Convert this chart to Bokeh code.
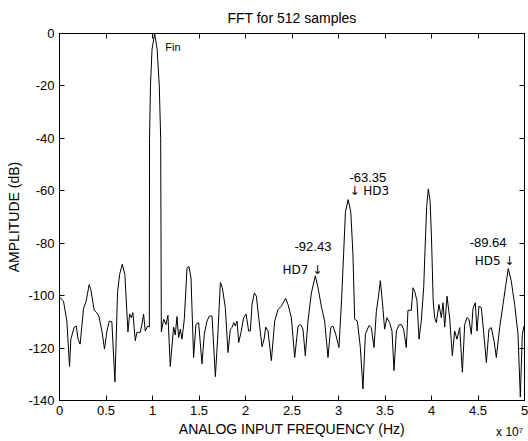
from bokeh.plotting import figure
from bokeh.models import Range1d, LinearAxis, FixedTicker
from bokeh.core.properties import value
from bokeh.embed import file_html
from bokeh.resources import INLINE

FONT = "Liberation Sans"
ARROW_FONT = "DejaVu Sans"

# frequency in units of 1e7 Hz, amplitude in dB
freq = [0.000, 0.043, 0.079, 0.108, 0.122, 0.158, 0.180, 0.200, 0.222, 0.258,
        0.287, 0.319, 0.337, 0.373, 0.400, 0.423, 0.456, 0.484, 0.510, 0.535,
        0.563, 0.596, 0.624, 0.646, 0.675, 0.703, 0.736, 0.754, 0.772, 0.789,
        0.815, 0.832, 0.868, 0.886, 0.904, 0.922, 0.947,
        0.966, 0.968, 0.978, 0.995, 1.023, 1.050, 1.073, 1.088, 1.095,
        1.120, 1.145, 1.166, 1.191, 1.227, 1.245, 1.263, 1.281, 1.299, 1.317,
        1.342, 1.371, 1.392, 1.414, 1.442, 1.467, 1.496, 1.532, 1.557, 1.586,
        1.611, 1.640, 1.676, 1.701, 1.730, 1.751, 1.783, 1.812, 1.837, 1.855,
        1.873, 1.891, 1.909, 1.927, 1.952, 1.980, 2.006, 2.034, 2.052, 2.070,
        2.095, 2.117, 2.142, 2.178, 2.200, 2.217, 2.242, 2.278, 2.314, 2.350,
        2.385, 2.432, 2.457, 2.493, 2.529, 2.565, 2.593, 2.618, 2.643, 2.672,
        2.708, 2.751, 2.780, 2.815, 2.851, 2.887, 2.916, 2.941, 2.970, 3.005,
        3.034, 3.055, 3.075, 3.104, 3.132, 3.155, 3.174, 3.203, 3.235, 3.263,
        3.289, 3.328, 3.353, 3.382, 3.407, 3.428, 3.450, 3.471, 3.496, 3.521,
        3.550, 3.575, 3.597, 3.622, 3.650, 3.676, 3.700, 3.729, 3.747, 3.783,
        3.801, 3.819, 3.844, 3.866, 3.890, 3.916, 3.935, 3.948, 3.966, 3.985,
        4.000, 4.018, 4.034, 4.052, 4.080, 4.106, 4.124, 4.142, 4.167, 4.195,
        4.224, 4.249, 4.274, 4.303, 4.332, 4.357, 4.382, 4.403, 4.428, 4.446,
        4.471, 4.489, 4.511, 4.536, 4.561, 4.590, 4.618, 4.643, 4.672, 4.697,
        4.733, 4.769, 4.797, 4.826, 4.858, 4.894, 4.930, 4.955, 4.976, 4.994]

amp = [-100.6, -102.1, -109.7, -127.0, -116.6, -112.0, -111.6, -116.6, -118.5, -105.0,
       -102.0, -95.8, -97.7, -105.6, -106.5, -107.8, -113.5, -120.4, -113.5, -109.7,
       -110.0, -132.9, -98.9, -92.0, -88.0, -92.0, -113.8, -107.0, -108.4, -106.5,
       -117.2, -114.0, -114.0, -111.0, -107.0, -113.5, -111.6,
       -112.0, -40.0, -20.0, -6.0, 0.0, -6.0, -20.0, -40.0, -113.8,
       -109.0, -111.0, -107.5, -127.0, -112.0, -115.0, -108.0, -116.0, -112.8, -116.6,
       -109.0, -89.5, -88.8, -93.3, -123.6, -111.0, -110.3, -126.0, -114.7, -109.7,
       -107.8, -107.8, -130.9, -116.0, -95.0, -97.0, -104.6, -121.7, -112.8, -112.2,
       -110.3, -111.6, -109.7, -117.9, -114.0, -108.4, -107.0, -113.5, -113.5, -103.4,
       -99.0, -100.2, -108.4, -119.5, -116.6, -112.0, -113.5, -124.8, -109.7, -105.3,
       -104.0, -101.0, -103.4, -108.4, -123.6, -111.6, -111.0, -112.8, -122.9, -109.7,
       -99.0, -92.43, -97.0, -104.0, -109.7, -123.6, -112.2, -111.6, -114.7, -119.8,
       -101.0, -84.0, -68.0, -63.35, -68.0, -84.0, -109.0, -109.7, -119.8, -135.6,
       -114.7, -111.4, -112.2, -119.8, -106.0, -100.8, -94.3, -102.0, -112.8, -108.4,
       -110.3, -113.5, -128.6, -113.5, -111.2, -111.0, -112.8, -119.8, -105.6, -105.6,
       -97.0, -98.3, -102.0, -116.6, -109.7, -97.0, -78.0, -66.0, -59.3, -64.0,
       -78.0, -102.0, -108.4, -110.3, -103.4, -108.4, -102.7, -112.0, -100.2, -108.4,
       -122.9, -113.5, -116.6, -112.2, -129.2, -111.0, -108.4, -109.0, -114.7, -105.0,
       -102.7, -113.5, -104.0, -104.6, -114.0, -125.5, -112.8, -112.2, -117.2, -123.6,
       -112.2, -103.4, -96.4, -89.64, -94.5, -103.4, -114.7, -138.7, -115.0, -111.6]

x_ticks = [0, 0.5, 1, 1.5, 2, 2.5, 3, 3.5, 4, 4.5, 5]
x_tick_labels = ["0", "0.5", "1", "1.5", "2", "2.5", "3", "3.5", "4", "4.5", "5"]
y_ticks = [-140, -120, -100, -80, -60, -40, -20, 0]
y_tick_labels = ["-140", "-120", "-100", "-80", "-60", "-40", "-20", "0"]

# axis multiplier note shown under the right end of the x axis
exp_text = "x 10\u2077"
exp_pos = 4.84

# measured peak values
val_x = [3.118, 2.527, 4.410]
val_y = [-55.0, -81.2, -79.7]
val_text = ["-63.35", "-92.43", "-89.64"]

# harmonic tags with arrows
tag_x = [3.118, 2.397, 4.464]
tag_y = [-60.2, -90.3, -86.9]
tag_text = ["\u2193 HD3", "HD7 \u2193", "HD5 \u2193"]

fin_x = [1.138]
fin_y = [-5.0]
fin_text = ["Fin"]

p = figure(width=528, height=441, x_range=Range1d(0, 5), y_range=Range1d(-140, 0),
           output_backend="svg", toolbar_location=None,
           min_border_left=59, min_border_right=4, min_border_top=32, min_border_bottom=41,
           title="FFT for 512 samples")
p.background_fill_color = "white"
p.border_fill_color = "white"
p.outline_line_color = "black"
p.xgrid.visible = False
p.ygrid.visible = False

p.title.text_font = FONT
p.title.text_font_size = "14px"
p.title.text_font_style = "normal"
p.title.text_color = "black"
p.title.align = "center"
p.title.standoff = 15


def style_axis(ax, ticks, labels, show_labels=True):
    ax.ticker = FixedTicker(ticks=ticks)
    ax.major_label_overrides = dict(zip(ticks, labels))
    ax.major_tick_in = 5
    ax.major_tick_out = 0
    ax.minor_tick_line_color = None
    ax.axis_line_color = "black"
    ax.major_tick_line_color = "black"
    ax.major_label_text_font = FONT
    if show_labels:
        ax.major_label_text_font_size = "13px"
        ax.major_label_text_color = "black"
    else:
        ax.major_label_text_font_size = "1px"
        ax.major_label_text_color = None
        ax.major_label_standoff = 0
    ax.axis_label_text_font = FONT
    ax.axis_label_text_font_size = "14px"
    ax.axis_label_text_font_style = "normal"
    ax.axis_label_text_color = "black"


xa = p.xaxis[0]
style_axis(xa, x_ticks, x_tick_labels)
xa.axis_label = "ANALOG INPUT FREQUENCY (Hz)"
xa.major_label_standoff = 5
xa.axis_label_standoff = 3

ya = p.yaxis[0]
style_axis(ya, y_ticks, y_tick_labels)
ya.axis_label = "AMPLITUDE (dB)"
ya.major_label_standoff = 5
ya.axis_label_standoff = 3

top = LinearAxis()
style_axis(top, x_ticks, x_tick_labels, show_labels=False)
p.add_layout(top, "above")
right = LinearAxis()
style_axis(right, y_ticks, y_tick_labels, show_labels=False)
p.add_layout(right, "right")

# outer axis carrying only the "x 10^7" multiplier
mult = LinearAxis(ticker=FixedTicker(ticks=[exp_pos]),
                  major_label_overrides={exp_pos: exp_text})
mult.axis_line_color = None
mult.major_tick_line_color = None
mult.minor_tick_line_color = None
mult.major_tick_in = 0
mult.major_tick_out = 0
mult.major_label_standoff = -15
mult.major_label_text_font = FONT
mult.major_label_text_font_size = "12px"
mult.major_label_text_color = "black"
p.add_layout(mult, "below")

p.line(freq, amp, line_color="black", line_width=1)

p.text(x=val_x, y=val_y, text=val_text, text_font=value(FONT), text_font_size="13px",
       text_align="left", text_baseline="alphabetic", text_color="black")
p.text(x=tag_x, y=tag_y, text=tag_text, text_font=value(ARROW_FONT), text_font_size="12px",
       text_align="left", text_baseline="alphabetic", text_color="black")
p.text(x=fin_x, y=fin_y, text=fin_text, text_font=value(FONT), text_font_size="11px",
       text_align="left", text_baseline="alphabetic", text_color="black")

open("out.html", "w").write(file_html(p, INLINE))
